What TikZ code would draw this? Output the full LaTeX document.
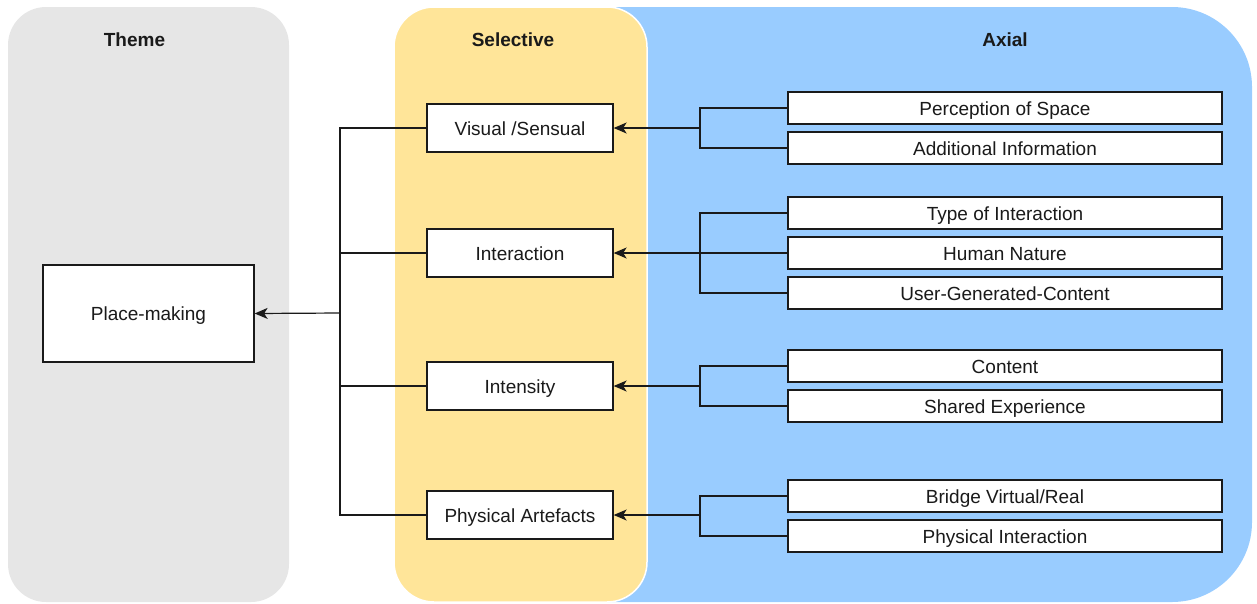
\documentclass[tikz,border=0pt]{standalone}
\usepackage{fontspec}
\setmainfont{Liberation Sans}
\usetikzlibrary{arrows.meta}
\definecolor{laneGray}{HTML}{E6E6E6}
\definecolor{laneYellow}{HTML}{FFE599}
\definecolor{laneBlue}{HTML}{99CCFF}
\definecolor{ink}{HTML}{1A1A1A}
\tikzset{
  box/.style={draw=ink, fill=white, line width=1.3pt, inner sep=0pt, text=ink,
    font=\fontsize{19}{22}\selectfont, text height=17.5pt, text depth=3pt},
  selbox/.style={box, minimum width=186pt, minimum height=48pt},
  axbox/.style={box, minimum width=434pt, minimum height=32pt},
  title/.style={font=\bfseries\fontsize{19}{22}\selectfont, text=ink},
  link/.style={draw=ink, line width=1.2pt},
  arrowlink/.style={link, -{Stealth[length=13pt,width=11pt,inset=3.5pt]}}
}
\begin{document}
\begin{tikzpicture}[x=1pt,y=-1pt]
\useasboundingbox (0,0) rectangle (1257,603);
% lanes
\fill[laneGray, rounded corners=38pt] (8,7) rectangle (289,602);
\fill[laneBlue] (560,7) [rounded corners=80pt] -- (1252,7) -- (1252,602) [sharp corners] -- (560,602) -- cycle;
\filldraw[fill=laneYellow, draw=white, line width=1.5pt, rounded corners=40pt] (394,7) rectangle (647,602);
% titles
\node[title] (tTheme) at (134.5,40) {Theme};
\node[title] (tSel) at (513,40) {Selective};
\node[title] (tAx) at (1005,40) {Axial};
% theme
\node[box, minimum width=211pt, minimum height=97pt] (pm) at (148.5,313.5) {Place-making};
% selective
\node[selbox] (vis) at (520,128) {Visual /Sensual};
\node[selbox] (inter) at (520,253) {Interaction};
\node[selbox] (inten) at (520,386) {Intensity};
\node[selbox] (phys) at (520,515) {Physical Artefacts};
% axial
\node[axbox] (a1) at (1005,108) {Perception of Space};
\node[axbox] (a2) at (1005,148) {Additional Information};
\node[axbox] (a3) at (1005,213) {Type of Interaction};
\node[axbox] (a4) at (1005,253) {Human Nature};
\node[axbox] (a5) at (1005,293) {User-Generated-Content};
\node[axbox] (a6) at (1005,366) {Content};
\node[axbox] (a7) at (1005,406) {Shared Experience};
\node[axbox] (a8) at (1005,496) {Bridge Virtual/Real};
\node[axbox] (a9) at (1005,536) {Physical Interaction};
% junctions
\coordinate (j1) at (700,128);
\coordinate (j2) at (700,253);
\coordinate (j3) at (700,386);
\coordinate (j4) at (700,515);
\coordinate (jL) at (340,313);
% axial -> selective
\draw[link] (a1.west) -| (j1);
\draw[link] (a2.west) -| (j1);
\draw[arrowlink] (j1) -- (vis.east);
\draw[link] (a3.west) -| (j2);
\draw[link] (a4.west) -- (j2);
\draw[link] (a5.west) -| (j2);
\draw[arrowlink] (j2) -- (inter.east);
\draw[link] (a6.west) -| (j3);
\draw[link] (a7.west) -| (j3);
\draw[arrowlink] (j3) -- (inten.east);
\draw[link] (a8.west) -| (j4);
\draw[link] (a9.west) -| (j4);
\draw[arrowlink] (j4) -- (phys.east);
% selective -> theme
\draw[link] (vis.west) -| (jL);
\draw[link] (inter.west) -| (jL);
\draw[link] (inten.west) -| (jL);
\draw[link] (phys.west) -| (jL);
\draw[arrowlink] (jL) -- (pm.east);
\end{tikzpicture}
\end{document}
